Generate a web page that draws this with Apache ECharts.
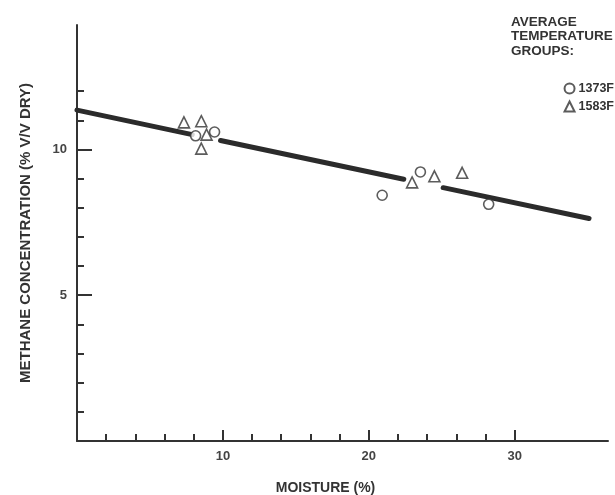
<!DOCTYPE html>
<html>
<head>
<meta charset="utf-8">
<script src="https://cdn.jsdelivr.net/npm/echarts@6/dist/echarts.min.js"></script>
<style>
html,body{margin:0;padding:0;background:#fff;}
#main{width:615px;height:495px;}
</style>
</head>
<body>
<div id="main"></div>
<script>
// data
var xMajorTicks = [10, 20, 30];
var xMinorTicks = [2, 4, 6, 8, 12, 14, 16, 18, 22, 24, 26, 28];
var yMajorTicks = [5, 10];
var yMinorTicks = [1, 2, 3, 4, 6, 7, 8, 9, 11, 12];

// 1373F group (circles)
var group1373 = [[8.13, 10.47], [9.43, 10.6], [20.92, 8.43], [23.54, 9.23], [28.22, 8.12]];
// 1583F group (triangles)
var group1583 = [[7.33, 10.93], [8.52, 10.97], [8.88, 10.51], [8.52, 10.03], [22.97, 8.87], [24.5, 9.08], [26.4, 9.2]];
// fitted line, drawn in three pieces
var fitSeg1 = [[0, 11.35], [7.9, 10.51]];
var fitSeg2 = [[9.84, 10.31], [22.4, 8.98]];
var fitSeg3 = [[25.1, 8.69], [35.1, 7.63]];

var ink = '#333';
var font = 'Liberation Sans, Arial, Helvetica, sans-serif';

var myChart = echarts.init(document.getElementById('main'));

function fitLine(d) {
	return {
		type: 'line',
		xAxisIndex: 0, yAxisIndex: 0,
		data: d,
		showSymbol: false,
		silent: true,
		z: 2,
		lineStyle: {color: '#2b2b2b', width: 5, cap: 'round'}
	};
}

var option = {
	backgroundColor: '#fff',
	animation: false,
	textStyle: {fontFamily: font},
	title: {
		text: 'AVERAGE\nTEMPERATURE\nGROUPS:',
		left: 506, top: 10,
		textStyle: {fontSize: 13.5, fontWeight: 'bold', color: ink, lineHeight: 14.5, fontFamily: font}
	},
	legend: {
		orient: 'vertical',
		right: -4, top: 77,
		itemWidth: 10, itemHeight: 10, itemGap: 5,
		data: ['1373F', '1583F'],
		textStyle: {fontSize: 12.5, fontWeight: 'bold', color: ink, fontFamily: font, padding: [0, 0, 0, -1]}
	},
	// keep the plot box fixed, labels may sit outside it
	grid: {left: 77, right: 7, top: 25, bottom: 54, outerBoundsMode: 'none'},
	xAxis: [{
		type: 'value', min: 0, max: 36.4,
		name: 'MOISTURE (%)', nameLocation: 'middle', nameGap: 40,
		nameTextStyle: {fontSize: 14, fontWeight: 'bold', color: ink, padding: [0, 34, 0, 0]},
		splitLine: {show: false},
		axisLine: {lineStyle: {color: ink, width: 2}},
		axisTick: {inside: true, length: 11, customValues: xMajorTicks, lineStyle: {color: ink, width: 2}},
		axisLabel: {customValues: xMajorTicks, margin: 9, fontSize: 13, fontWeight: 'bold', color: '#444'}
	}, {
		type: 'value', min: 0, max: 36.4, position: 'bottom',
		splitLine: {show: false},
		axisLine: {show: false},
		axisTick: {inside: true, length: 7, customValues: xMinorTicks, lineStyle: {color: ink, width: 2}},
		axisLabel: {show: false}
	}],
	yAxis: [{
		type: 'value', min: 0, max: 14.27,
		name: 'METHANE CONCENTRATION (% V/V DRY)', nameLocation: 'middle', nameGap: 44, nameRotate: 90,
		nameTextStyle: {fontSize: 15, fontWeight: 'bold', color: ink},
		splitLine: {show: false},
		axisLine: {lineStyle: {color: ink, width: 2}},
		axisTick: {inside: true, length: 15, customValues: yMajorTicks, lineStyle: {color: ink, width: 2}},
		axisLabel: {customValues: yMajorTicks, margin: 10, fontSize: 13, fontWeight: 'bold', color: '#444'}
	}, {
		type: 'value', min: 0, max: 14.27, position: 'left',
		splitLine: {show: false},
		axisLine: {show: false},
		axisTick: {inside: true, length: 7, customValues: yMinorTicks, lineStyle: {color: ink, width: 2}},
		axisLabel: {show: false}
	}],
	series: [
		fitLine(fitSeg1),
		fitLine(fitSeg2),
		fitLine(fitSeg3),
		{
			name: '1373F', type: 'scatter',
			xAxisIndex: 0, yAxisIndex: 0,
			symbol: 'circle', symbolSize: 10,
			data: group1373, z: 5,
			itemStyle: {color: '#fff', borderColor: ink, borderWidth: 1.6}
		},
		{
			name: '1583F', type: 'scatter',
			xAxisIndex: 0, yAxisIndex: 0,
			symbol: 'triangle', symbolSize: 11,
			data: group1583, z: 5,
			itemStyle: {color: '#fff', borderColor: ink, borderWidth: 1.6}
		}
	]
};
myChart.setOption(option);
</script>
</body>
</html>
